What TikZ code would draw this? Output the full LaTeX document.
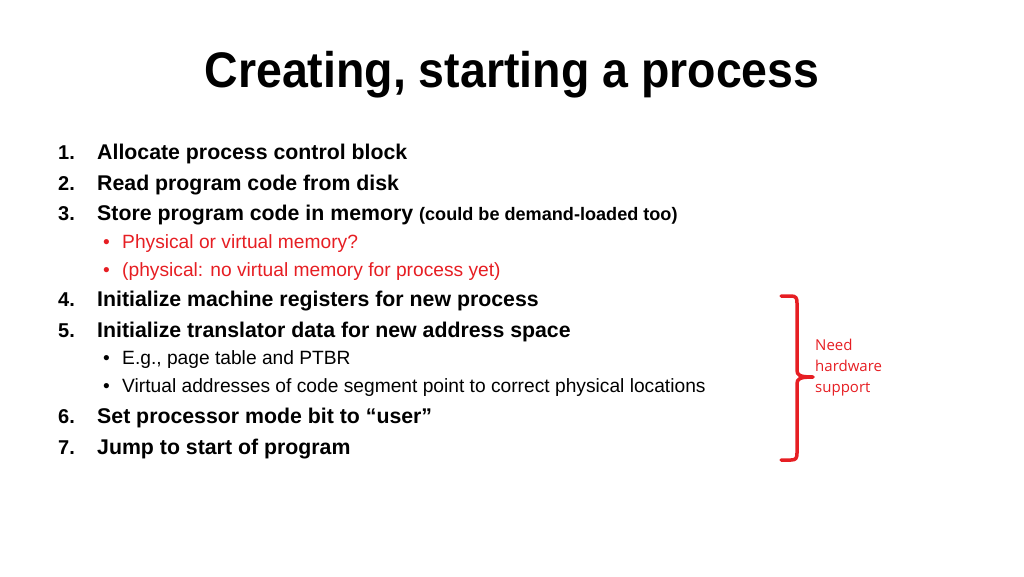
\documentclass[tikz,border=0pt]{standalone}
\usepackage{fontspec}
\setmainfont{Liberation Sans}
\newfontfamily\notefont{Open Sans}
\definecolor{slred}{RGB}{230,30,35}
\begin{document}
\begin{tikzpicture}[x=1pt,y=-1pt,inner sep=0pt,
  num/.style={anchor=base west,font=\bfseries\fontsize{20}{24}\selectfont},
  item/.style={anchor=base west,font=\bfseries\fontsize{21.3}{24}\selectfont},
  sub/.style={anchor=base west,font=\fontsize{19.2}{22}\selectfont},
  subred/.style={sub,text=slred}]
\useasboundingbox (0,0) rectangle (1024,576);
\node[font=\bfseries\fontsize{50}{55}\selectfont,xscale=0.93] (title) at (512,75) {Creating, starting a process};
\foreach \n/\y/\t [count=\i] in {1/159/Allocate process control block,2/190/Read program code from disk,4/306/Initialize machine registers for new process,5/337/Initialize translator data for new address space,7/454/Jump to start of program}{
  \node[num] (n\i) at (58,\y) {\n.};
  \node[item] (t\i) at (97,\y) {\t};
}
\node[num] (n3) at (58,220) {3.};
\node[item] (t3) at (97,220) {Store program code in memory {\fontsize{18.1}{20}\selectfont(could be demand-loaded too)}};
\node[num] (n6) at (58,423) {6.};
\node[item] (t6) at (97,423) {Set processor mode bit to “user”};
\foreach \y/\t/\s [count=\i] in {248/Physical or virtual memory?/subred,276/(physical: no virtual memory for process yet)/subred,364/{E.g., page table and PTBR}/sub,392/Virtual addresses of code segment point to correct physical locations/sub}{
  \node[\s] (b\i) at (103,\y) {•};
  \node[\s] (s\i) at (122,\y) {\t};
}
\draw[slred,line width=3.5pt,line cap=round,line join=round]
  (781,296) -- (791,296) .. controls (796,296) and (797,298) .. (797,303)
  -- (797,370) .. controls (797,375) and (799,377) .. (813,377)
  .. controls (799,377) and (797,379) .. (797,384)
  -- (797,453) .. controls (797,458) and (796,460) .. (791,460) -- (781,460);
\node[anchor=west,align=left,text=slred,font=\notefont\fontsize{15}{21}\selectfont] (need) at (815,368) {Need\\hardware\\support};
\end{tikzpicture}
\end{document}
